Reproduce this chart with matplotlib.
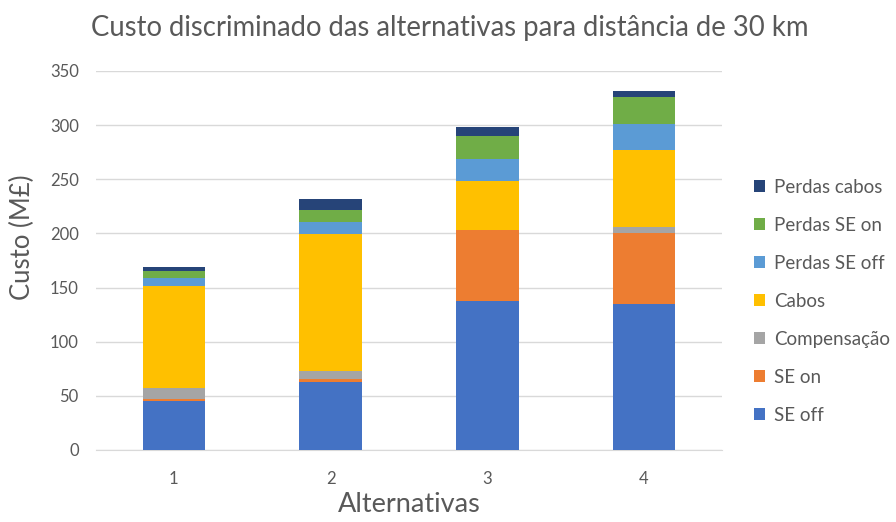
import matplotlib
matplotlib.use("Agg")
import matplotlib.pyplot as plt
import numpy as np
from matplotlib.patches import Patch

plt.rcParams['font.family'] = ['Lato', 'DejaVu Sans']

alternativas = ["1", "2", "3", "4"]
se_off = [45.0, 63.0, 137.5, 135.1]
se_on = [2.2, 2.1, 65.7, 65.7]
compensacao = [10.4, 7.4, 0.0, 4.9]
cabos = [94.2, 127.4, 44.8, 71.3]
perdas_se_off = [6.8, 10.4, 20.9, 23.9]
perdas_se_on = [7.0, 11.0, 21.2, 25.4]
perdas_cabos = [3.1, 10.1, 8.3, 5.2]

series = [
    ("SE off", se_off, "#4472C4"),
    ("SE on", se_on, "#ED7D31"),
    ("Compensação", compensacao, "#A5A5A5"),
    ("Cabos", cabos, "#FFC000"),
    ("Perdas SE off", perdas_se_off, "#5B9BD5"),
    ("Perdas SE on", perdas_se_on, "#70AD47"),
    ("Perdas cabos", perdas_cabos, "#264478"),
]

fig = plt.figure(figsize=(8.96, 5.22), dpi=100)
ax = fig.add_axes([0.1066, 0.138, 0.6995, 0.726])

x = np.arange(len(alternativas))
bottom = np.zeros(len(alternativas))
for name, vals, color in series:
    ax.bar(x, vals, width=0.4, bottom=bottom, color=color, label=name, zorder=3)
    bottom += np.array(vals)

ax.set_xlim(-0.5, len(alternativas) - 0.5)
ax.set_ylim(0, 350)
ax.set_yticks(np.arange(0, 351, 50))
ax.set_xticks(x)
ax.set_xticklabels(alternativas)
ax.grid(axis='y', color='#D9D9D9', linewidth=1, zorder=0)
for s in ['top', 'right', 'left']:
    ax.spines[s].set_visible(False)
ax.spines['bottom'].set_color('#D9D9D9')
ax.tick_params(axis='both', length=0, labelsize=12, labelcolor='#595959')
ax.tick_params(axis='y', pad=12)
ax.tick_params(axis='x', pad=15)

ax.set_ylabel("Custo (M£)", fontsize=18.5, color='#595959')
ax.yaxis.set_label_coords(-0.0965, 0.56)
ax.set_xlabel("Alternativas", fontsize=19.5, color='#595959')
ax.xaxis.set_label_coords(0.5, -0.112)
fig.text(0.502, 0.946, "Custo discriminado das alternativas para distância de 30 km",
         fontsize=19.8, color='#595959', ha='center', va='center')

handles = [Patch(facecolor=c, label=n) for n, _, c in series][::-1]
fig.legend(handles=handles, loc='center left', bbox_to_anchor=(0.833, 0.423),
           frameon=False, fontsize=13.5, labelcolor='#595959',
           handlelength=0.6, handleheight=0.6, handletextpad=0.5,
           labelspacing=1.12, borderaxespad=0)

fig.savefig("out.png", dpi=100, facecolor='white')
